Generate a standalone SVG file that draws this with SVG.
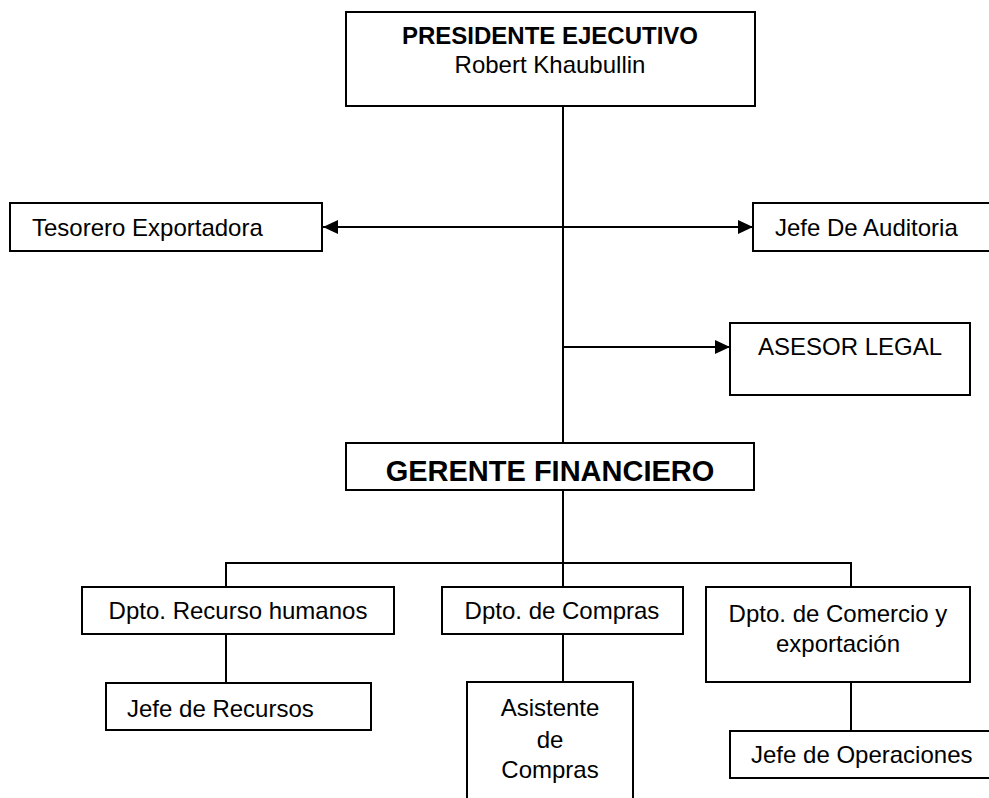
<svg xmlns="http://www.w3.org/2000/svg" width="989" height="798" viewBox="0 0 989 798">
<style>
.box{fill:#fff;stroke:#000;stroke-width:2}
.ln{fill:none;stroke:#000;stroke-width:2}
text{font-family:"Liberation Sans",Arial,sans-serif;font-size:24px;fill:#000}
.c{text-anchor:middle}
.b{font-weight:bold}
.big{font-size:29px}
</style>
<defs>
<marker id="ah" viewBox="0 0 15 14" refX="15" refY="7" markerWidth="15" markerHeight="14" markerUnits="userSpaceOnUse" orient="auto-start-reverse">
<path d="M0,0 L15,7 L0,14 Z" fill="#000"/>
</marker>
</defs>
<rect width="989" height="798" fill="#fff"/>
<g id="connectors">
<line class="ln" x1="563" y1="106" x2="563" y2="443"/>
<line class="ln" x1="323" y1="227" x2="753" y2="227" marker-start="url(#ah)" marker-end="url(#ah)"/>
<line class="ln" x1="563" y1="347" x2="730" y2="347" marker-end="url(#ah)"/>
<line class="ln" x1="563" y1="490" x2="563" y2="587"/>
<polyline class="ln" points="226,587 226,563 851,563 851,587"/>
<line class="ln" x1="226" y1="634" x2="226" y2="683"/>
<line class="ln" x1="563" y1="634" x2="563" y2="682"/>
<line class="ln" x1="851" y1="682" x2="851" y2="731"/>
</g>
<g id="presidente">
<rect class="box" x="346" y="12" width="409" height="94"/>
<text class="c b" x="550" y="44">PRESIDENTE EJECUTIVO</text>
<text class="c" x="550" y="73">Robert Khaubullin</text>
</g>
<g id="tesorero">
<rect class="box" x="10" y="203" width="312" height="48"/>
<text x="32" y="236">Tesorero Exportadora</text>
</g>
<g id="auditoria">
<rect class="box" x="753" y="203" width="260" height="48"/>
<text x="775" y="236">Jefe De Auditoria</text>
</g>
<g id="asesor">
<rect class="box" x="730" y="323" width="240" height="72"/>
<text class="c" x="850" y="355">ASESOR LEGAL</text>
</g>
<g id="gerente">
<rect class="box" x="346" y="443" width="408" height="47"/>
<text class="c b big" x="550" y="481">GERENTE FINANCIERO</text>
</g>
<g id="recursos-humanos">
<rect class="box" x="82" y="587" width="312" height="47"/>
<text class="c" x="238" y="619">Dpto. Recurso humanos</text>
</g>
<g id="compras">
<rect class="box" x="442" y="587" width="241" height="47"/>
<text class="c" x="562" y="619">Dpto. de Compras</text>
</g>
<g id="comercio">
<rect class="box" x="706" y="587" width="264" height="95"/>
<text class="c" x="838" y="622">Dpto. de Comercio y</text>
<text class="c" x="838" y="652">exportación</text>
</g>
<g id="jefe-recursos">
<rect class="box" x="106" y="683" width="265" height="47"/>
<text x="127" y="717">Jefe de Recursos</text>
</g>
<g id="asistente">
<rect class="box" x="467" y="682" width="166" height="140"/>
<text class="c" x="550" y="716">Asistente</text>
<text class="c" x="550" y="748">de</text>
<text class="c" x="550" y="778">Compras</text>
</g>
<g id="jefe-operaciones">
<rect class="box" x="730" y="731" width="280" height="47"/>
<text x="751" y="763">Jefe de Operaciones</text>
</g>
</svg>
